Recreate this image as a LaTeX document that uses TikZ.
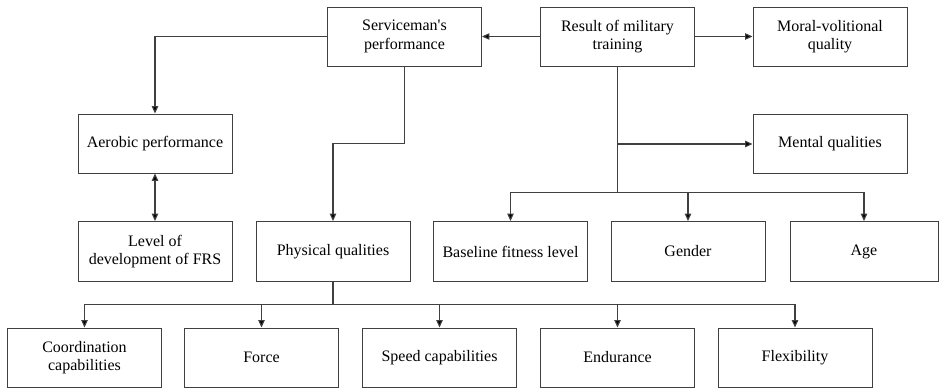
\documentclass[tikz,border=0pt]{standalone}
\usepackage{fontspec}
\setmainfont{Liberation Serif}
\usetikzlibrary{arrows.meta}
\begin{document}
\begin{tikzpicture}[x=1pt,y=-1pt,
  box/.style={draw=black!75,line width=0.9pt,minimum width=154pt,minimum height=59pt,
    inner sep=1pt,align=center,font=\fontsize{16}{18.5}\selectfont},
  conn/.style={draw=black!75,line width=1.1pt},
  arr/.style={conn,-{Triangle[length=7.5pt,width=6.5pt,fill=black]}},
  darr/.style={conn,{Triangle[length=7.5pt,width=6.5pt,fill=black]}-{Triangle[length=7.5pt,width=6.5pt,fill=black]}}]
\useasboundingbox (0,0) rectangle (939,388);
% top row
\node[box] (serv) at (404.5,36.5) {Serviceman\textquotesingle s\\performance};
\node[box] (res) at (617.5,36.5) {Result of military\\training};
\node[box] (moral) at (830,36.5) {Moral-volitional\\quality};
% second row
\node[box] (aer) at (155,143.5) {Aerobic performance};
\node[box] (mental) at (830,144) {Mental qualities};
% third row
\node[box,minimum height=60pt] (level) at (155,251.5) {Level of\\development of FRS};
\node[box,minimum height=60pt] (phys) at (333,251.5) {Physical qualities};
\node[box,minimum height=60pt] (base) at (510.5,251.5) {Baseline fitness level};
\node[box,minimum height=60pt] (gender) at (688,251.5) {Gender};
\node[box,minimum height=60pt,minimum width=148pt] (age) at (864,251.5) {Age};
% bottom row
\node[box] (coord) at (84.5,357.5) {Coordination\\capabilities};
\node[box] (force) at (261.5,357.5) {Force};
\node[box] (speed) at (439.5,357.5) {Speed capabilities};
\node[box] (endur) at (617.5,357.5) {Endurance};
\node[box] (flex) at (795,357.5) {Flexibility};
% connectors
\draw[arr] (res.west) -- (serv.east);
\draw[arr] (res.east) -- (moral.west);
\draw[arr] (serv.west) -| (aer.north);
\draw[darr] (aer.south) -- (level.north);
\draw[arr] (serv.south) -- ++(0,77) coordinate (sbend) -| (phys.north);
\draw[conn] (res.south) -- ++(0,126) coordinate (rj);
\draw[arr] (res.south |- mental.west) -- (mental.west);
\draw[arr] (rj) -| (base.north);
\draw[arr] (rj) -| (gender.north);
\draw[arr] (rj) -| (age.north);
\draw[conn] (phys.south) -- ++(0,22.5) coordinate (pj);
\draw[arr] (pj) -| (coord.north);
\draw[arr] (pj) -| (force.north);
\draw[arr] (pj) -| (speed.north);
\draw[arr] (pj) -| (endur.north);
\draw[arr] (pj) -| (flex.north);
\end{tikzpicture}
\end{document}
